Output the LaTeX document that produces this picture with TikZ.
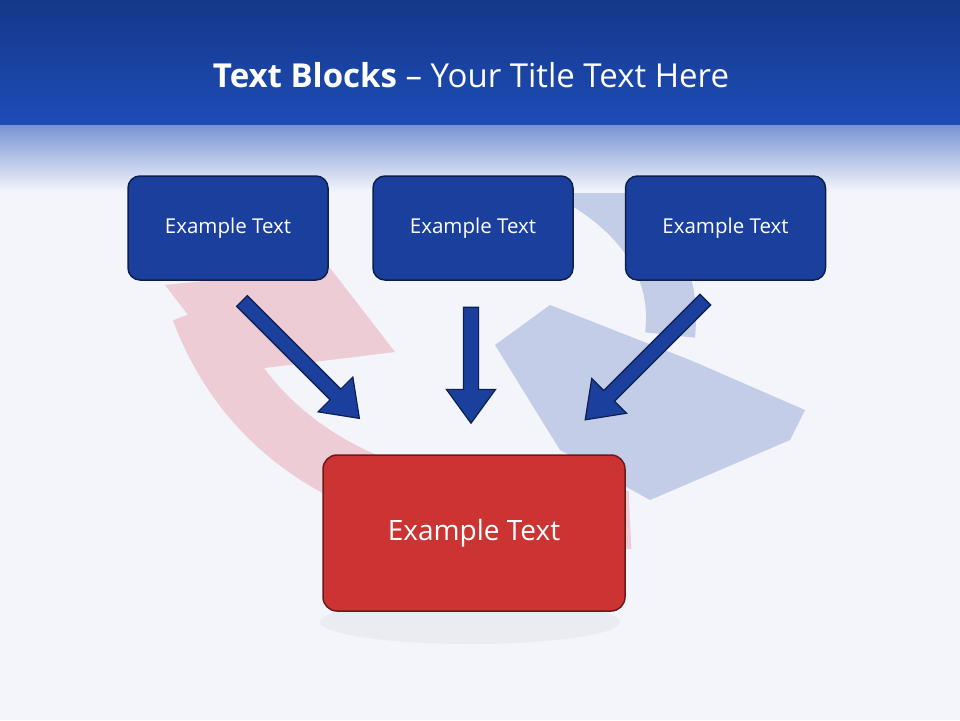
\documentclass[tikz,border=0pt]{standalone}
\usepackage{fontspec}
\setmainfont{Open Sans}
\usetikzlibrary{shapes.arrows}
\definecolor{bluebox}{HTML}{1B3F9C}
\definecolor{blueedge}{HTML}{0D1F4D}
\definecolor{redbox}{HTML}{CC3333}
\definecolor{rededge}{HTML}{6B1A1A}
\definecolor{hdrtop}{HTML}{14378A}
\definecolor{hdrbot}{HTML}{1E4DB7}
\definecolor{bgc}{HTML}{F3F5FB}
\definecolor{fblue}{HTML}{C3CDE8}
\definecolor{fred}{HTML}{EDCCD6}
\tikzset{
 bbox/.style={draw=blueedge,line width=1.5pt,fill=bluebox,rounded corners=12pt,minimum width=200pt,minimum height=104pt,text=white,font=\fontsize{20.5}{24}\selectfont},
 rbox/.style={draw=rededge,line width=1.5pt,fill=redbox,rounded corners=14pt,minimum width=302pt,minimum height=156pt,text=white,font=\fontsize{28}{33}\selectfont},
 barrow/.style={single arrow,draw=blueedge,line width=1.2pt,fill=bluebox,inner xsep=0pt,inner ysep=7pt,text height=0pt,text depth=0pt,single arrow head extend=17pt,single arrow tip angle=72}
}
\begin{document}
\begin{tikzpicture}[x=1pt,y=-1pt]
\useasboundingbox (0,0) rectangle (960,720);
\fill[bgc] (0,0) rectangle (960,720);
% decorative faint shapes
\fill[gray,opacity=0.07] (470,622) ellipse (150 and 22);
\draw[fred,line width=58pt] (200,310) .. controls (260,470) and (420,530) .. (630,520);
\fill[fred] (165,285) -- (330,268) -- (395,352) -- (232,372) -- cycle;
\draw[fblue,line width=50pt] (270,165) .. controls (420,90) and (690,170) .. (670,335);
\fill[fblue] (495,345) -- (550,305) -- (690,360) -- (805,410) -- (790,440) -- (650,500) -- (560,450) -- cycle;
% header
\shade[top color=hdrtop,bottom color=hdrbot] (0,0) rectangle (960,125);
\shade[top color=hdrbot!60!white,bottom color=bgc] (0,125) rectangle (960,192);
\node[text=white,font=\fontsize{33}{39}\selectfont] (title) at (471,75) {\textbf{Text Blocks} -- Your Title Text Here};
% boxes
\node[bbox] (b1) at (228,228) {Example Text};
\node[bbox] (b2) at (473,228) {Example Text};
\node[bbox] (b3) at (725.5,228) {Example Text};
\node[rbox] (r) at (474,533) {Example Text};
% arrows
\node[barrow,minimum height=166pt,rotate=-45] (a1) at (297,356) {};
\node[barrow,minimum height=116pt,rotate=-90] (a2) at (471,360) {};
\node[barrow,minimum height=170pt,rotate=-135] (a3) at (649,356) {};
\end{tikzpicture}
\end{document}
